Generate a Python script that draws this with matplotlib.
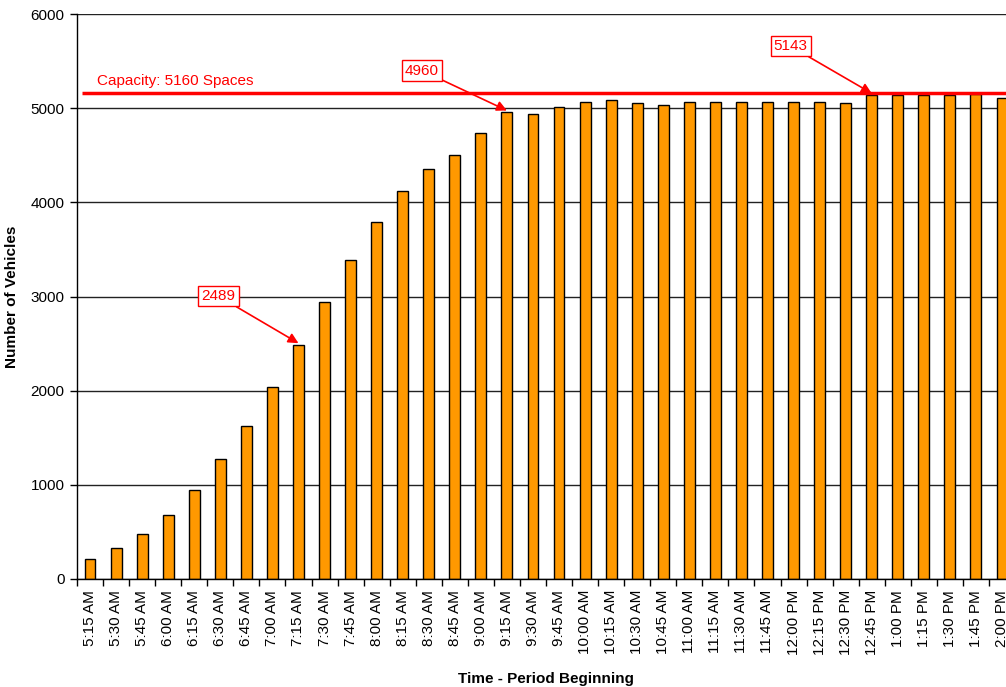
import numpy as np
import matplotlib.pyplot as plt

plt.rcParams['font.family'] = ['Liberation Sans', 'DejaVu Sans']

times = ['5:15 AM', '5:30 AM', '5:45 AM', '6:00 AM', '6:15 AM', '6:30 AM', '6:45 AM',
         '7:00 AM', '7:15 AM', '7:30 AM', '7:45 AM', '8:00 AM', '8:15 AM', '8:30 AM',
         '8:45 AM', '9:00 AM', '9:15 AM', '9:30 AM', '9:45 AM', '10:00 AM', '10:15 AM',
         '10:30 AM', '10:45 AM', '11:00 AM', '11:15 AM', '11:30 AM', '11:45 AM',
         '12:00 PM', '12:15 PM', '12:30 PM', '12:45 PM', '1:00 PM', '1:15 PM',
         '1:30 PM', '1:45 PM', '2:00 PM']
vehicles = [215, 330, 482, 678, 950, 1273, 1620, 2040, 2489, 2944, 3391, 3789,
            4122, 4352, 4500, 4735, 4960, 4938, 5014, 5067, 5085, 5056, 5032, 5064,
            5064, 5064, 5064, 5070, 5070, 5060, 5143, 5138, 5145, 5138, 5148, 5106]
capacity = 5160
callouts = [8, 16, 30]  # bars that get a value box
callout_offsets = [(-80, 47), (-85, 40), (-81, 47)]

fig = plt.figure(figsize=(10.06, 6.87), dpi=100)
ax = fig.add_axes([77 / 1006, 108 / 687, 938 / 1006, 565 / 687])

x = np.arange(len(times))
ax.bar(x, vehicles, width=0.42, color='#FF9900', edgecolor='black', linewidth=1, zorder=3)

ax.set_xlim(-0.5, len(times) - 0.5)
ax.set_ylim(0, 6000)
ax.set_yticks(np.arange(0, 6001, 1000))
ax.yaxis.grid(True, color='#222222', linewidth=1)
ax.set_axisbelow(True)

ax.set_xticks(x)
ax.set_xticklabels(times, rotation=90)
ax.set_xticks(np.arange(-0.5, len(times), 1), minor=True)
ax.tick_params(axis='x', which='major', length=0, pad=8, labelsize=11)
ax.tick_params(axis='x', which='minor', length=5, width=1, direction='out')
ax.tick_params(axis='y', length=5, width=1, labelsize=11, pad=4)

for s in ['top', 'right']:
    ax.spines[s].set_visible(False)
for s in ['left', 'bottom']:
    ax.spines[s].set_linewidth(1)
    ax.spines[s].set_zorder(4)

ax.set_xlabel('Time - Period Beginning', fontsize=11, fontweight='bold', labelpad=12)
ax.set_ylabel('Number of Vehicles', fontsize=11, fontweight='bold', labelpad=8)

# capacity line
ax.hlines(capacity, -0.3, len(times) - 0.3, color='red', linewidth=2.5, zorder=5)
ax.text(0.27, capacity + 55, 'Capacity: %d Spaces' % capacity, color='red',
        fontsize=11, va='bottom', ha='left')

for i, off in zip(callouts, callout_offsets):
    ax.annotate(str(vehicles[i]), xy=(i, vehicles[i] + 15), xytext=off,
                textcoords='offset pixels', ha='center', va='center',
                color='red', fontsize=11, zorder=6,
                bbox=dict(boxstyle='square,pad=0.2', fc='white', ec='red', lw=1),
                arrowprops=dict(arrowstyle='-|>', color='red', lw=1.2,
                                mutation_scale=15, shrinkA=0, shrinkB=0))

fig.savefig('out.png', dpi=100)
